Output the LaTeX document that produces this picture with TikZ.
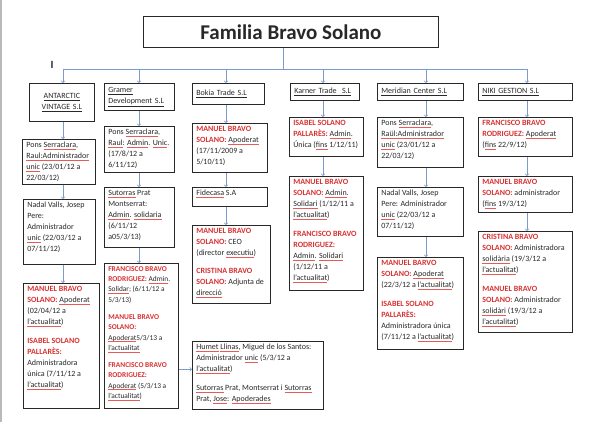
\documentclass[tikz,border=0pt]{standalone}
\usepackage{fontspec}
\setmainfont{Carlito}
\usetikzlibrary{arrows}
\definecolor{linkblue}{RGB}{125,155,200}
\definecolor{namered}{RGB}{215,50,50}
\definecolor{squiggle}{RGB}{230,90,90}
\definecolor{ink}{RGB}{40,40,40}
\newsavebox{\splbox}
\newcommand{\nm}[1]{\textcolor{namered}{\bfseries #1}}
\newcommand{\spl}[1]{\leavevmode\sbox{\splbox}{#1}\rlap{\hbox to \wd\splbox{\color{squiggle}\xleaders\hbox{\rule[-0.5ex]{0.6pt}{0.5pt}\kern0.3pt}\hfill}}\usebox{\splbox}}
\newcommand{\cell}[3]{\parbox[t][#2][t]{#1}{\raggedright #3}}
\tikzset{
	box/.style={draw=ink, line width=0.7pt, anchor=north west, inner xsep=4pt, inner ysep=3pt, text=ink, font=\fontsize{8}{11}\selectfont},
	firm/.style={box, inner ysep=0pt, align=left},
	arr/.style={draw=linkblue, line width=0.7pt, ->},
	bus/.style={draw=linkblue, line width=0.7pt}
}

\begin{document}
\begin{tikzpicture}[x=1pt, y=-1pt]
	\fill[white] (0,0) rectangle (600,422);
	\useasboundingbox (0,0) rectangle (600,422);
	\draw[gray!55, line width=1.5pt] (1,0) -- (1,422);
	
	\node[draw=ink, line width=0.8pt, anchor=north west, minimum width=295pt, minimum height=31pt, inner sep=0pt, text=ink, font=\bfseries\fontsize{21}{24}\selectfont] (title) at (143,16) {Familia Bravo Solano};
	\node[text=ink, font=\bfseries\fontsize{11}{11}\selectfont] (cur) at (52,65) {I};
	
	\coordinate (ct) at (283,69);
	\coordinate (ca) at (63,69);
	\coordinate (cg) at (139,69);
	\coordinate (cb) at (226,69);
	\coordinate (ck) at (323,69);
	\coordinate (cm) at (426,69);
	\coordinate (cn) at (527,69);
	
	\node[firm, text width=57pt, minimum height=38pt, align=center] (a1) at (29,83) {\underline{ANTARCTIC}\\\underline{VINTAGE S.L}};
	\node[firm, text width=62pt, minimum height=27pt] (g1) at (104,83) {\underline{Gramer}\\\underline{Development S.L}};
	\node[firm, text width=64pt, minimum height=21pt] (b1) at (192,83) {\underline{Bokia Trade S.L}};
	\node[firm, text width=61pt, minimum height=17pt] (k1) at (290,83) {\underline{Karner Trade\ \ S.L}};
	\node[firm, text width=78pt, minimum height=17pt] (m1) at (377,83) {\underline{Meridian Center S.L}};
	\node[firm, text width=86pt, minimum height=17pt] (n1) at (478,83) {\underline{NIKI GESTION S.L}};
	
	\node[box] (a2) at (22,139) {\cell{65pt}{39pt}{Pons \spl{Serraclara},\\ \spl{Raul:Administrador}\\ \spl{unic} (23/01/12 a\\ 22/03/12)}};
	\node[box] (a3) at (23,199) {\cell{64pt}{59pt}{Nadal Valls, Josep\\ Pere:\\ Administrador\\ \spl{unic} (22/03/12 a\\ 07/11/12)}};
	\node[box] (a4) at (23,283) {\cell{68pt}{119pt}{\nm{MANUEL BRAVO\\ SOLANO:} \spl{Apoderat}\\ (02/04/12 a\\ \spl{l'actualitat})\\[8pt] \nm{ISABEL SOLANO\\ PALLARÈS:}\\ Administradora\\ única (7/11/12 a\\ \spl{l'actualitat})}};
	
	\node[box] (g2) at (104,126) {\cell{62pt}{40pt}{Pons \spl{Serraclara},\\ \spl{Raul}: \spl{Admin}. \spl{Unic}.\\ (17/8/12 a\\ 6/11/12)}};
	\node[box] (g3) at (104,187) {\cell{62pt}{54pt}{\spl{Sutorras} Prat\\ Montserrat:\\ \spl{Admin}. \spl{solidaria}\\ (6/11/12\\ a05/3/13)}};
	\node[box, font=\fontsize{7.4}{10.3}\selectfont] (g4) at (104,263) {\cell{66pt}{139pt}{\nm{FRANCISCO BRAVO\\ RODRIGUEZ:} \spl{Admin}.\\ \spl{Solidar}; (6/11/12 a\\ 5/3/13)\\[7pt] \nm{MANUEL BRAVO\\ SOLANO:}\\ \spl{Apoderat}5/3/13 a\\ \spl{l'actualitat}\\[7pt] \nm{FRANCISCO BRAVO\\ RODRIGUEZ:}\\ \spl{Apoderat} (5/3/13 a\\ \spl{l'actualitat})}};
	
	\node[box] (b2) at (192,123) {\cell{67pt}{43pt}{\nm{MANUEL BRAVO\\ SOLANO:} \spl{Apoderat}\\ (17/11/2009 a\\ 5/10/11)}};
	\node[box] (b3) at (192,187) {\cell{67pt}{13pt}{\spl{Fidecasa} S.A}};
	\node[box] (b4) at (192,225) {\cell{70pt}{72pt}{\nm{MANUEL BRAVO\\ SOLANO:} CEO\\ (director \spl{executiu})\\[7pt] \nm{CRISTINA BRAVO\\ SOLANO:} Adjunta de\\ \spl{direcció}}};
	\node[box] (hum) at (192,341) {\cell{123pt}{62pt}{\spl{Humet} \spl{Llinas}, Miguel de los Santos:\\ Administrador \spl{unic} (5/3/12 a\\ \spl{l'actualitat})\\[8pt] \spl{Sutorras} Prat, Montserrat i \spl{Sutorras}\\ Prat, \spl{Jose}: \spl{Apoderades}}};
	
	\node[box] (k2) at (289,117) {\cell{66pt}{33pt}{\nm{ISABEL SOLANO\\ PALLARÈS:} \spl{Admin}.\\ Única (\spl{fins} 1/12/11)}};
	\node[box] (k3) at (289,176) {\cell{66pt}{108pt}{\nm{MANUEL BRAVO\\ SOLANO:} \spl{Admin}.\\ \spl{Solidari} (1/12/11 a\\ \spl{l'actualitat})\\[8pt] \nm{FRANCISCO BRAVO\\ RODRIGUEZ:}\\ \spl{Admin}. \spl{Solidari}\\ (1/12/11 a\\ \spl{l'actualitat})}};
	
	\node[box] (m2) at (377,117) {\cell{78pt}{44pt}{Pons \spl{Serraclara},\\ \spl{Raül:Administrador}\\ \spl{unic} (23/01/12 a\\ 22/03/12)}};
	\node[box] (m3) at (377,187) {\cell{78pt}{43pt}{Nadal Valls, Josep\\ Pere: Administrador\\ \spl{unic} (22/03/12 a\\ 07/11/12)}};
	\node[box] (m4) at (377,257) {\cell{78pt}{86pt}{\nm{MANUEL BARVO\\ SOLANO:} \spl{Apoderat}\\ (22/3/12 a \spl{l'actualitat})\\[8pt] \nm{ISABEL SOLANO\\ PALLARÈS:}\\ Administradora única\\ (7/11/12 a \spl{l'actualitat})}};
	
	\node[box] (n2) at (478,117) {\cell{86pt}{33pt}{\nm{FRANCISCO BRAVO\\ RODRIGUEZ:} \spl{Apoderat}\\ (\spl{fins} 22/9/12)}};
	\node[box] (n3) at (478,176) {\cell{86pt}{30pt}{\nm{MANUEL BRAVO\\ SOLANO:} administrador\\ (\spl{fins} 19/3/12)}};
	\node[box] (n4) at (478,231) {\cell{86pt}{95pt}{\nm{CRISTINA BRAVO\\ SOLANO:} Administradora\\ \spl{solidària} (19/3/12 a\\ \spl{l'actualitat})\\[8pt] \nm{MANUEL BRAVO\\ SOLANO:} Administrador\\ \spl{solidàri} (19/3/12 a\\ \spl{l'acutalitat})}};
	
	\draw[bus] (ct |- title.south) -- (ct);
	\draw[bus] (ca) -- (cn);
	\foreach \c/\n in {ca/a1, cg/g1, cb/b1, ck/k1, cm/m1, cn/n1}
		\draw[arr] (\c) -- (\c |- \n.north);
	\foreach \c/\u/\l in {ca/a1/a2, ca/a2/a3, ca/a3/a4, cg/g1/g2, cg/g2/g3, cg/g3/g4, cb/b1/b2, cb/b2/b3, cb/b3/b4, ck/k1/k2, ck/k2/k3, cm/m1/m2, cm/m2/m3, cm/m3/m4, cn/n1/n2, cn/n2/n3, cn/n3/n4}
		\draw[arr] (\c |- \u.south) -- (\c |- \l.north);
	\coordinate (hx) at ([yshift=6pt]hum.west);
	\draw[arr] (hx -| g4.east) -- (hx);
\end{tikzpicture}
\end{document}
